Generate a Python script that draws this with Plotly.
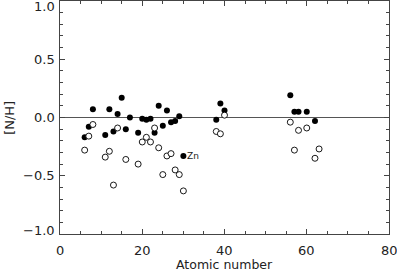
import plotly.graph_objects as go

# Data
filled_z = [6, 7, 8, 11, 12, 13, 14, 15, 16, 17, 19, 20, 21, 22, 23, 24, 25, 26, 27, 28, 29, 30,
            38, 39, 40, 56, 57, 58, 60, 62]
filled_nh = [-0.17, -0.08, 0.07, -0.15, 0.07, -0.12, 0.03, 0.17, -0.10, 0.00, -0.13, -0.01, -0.02,
             -0.01, -0.13, 0.10, -0.07, 0.06, -0.04, -0.03, 0.01, -0.33,
             -0.02, 0.12, 0.06, 0.19, 0.05, 0.05, 0.05, -0.03]

open_z = [6, 7, 8, 11, 12, 13, 14, 16, 19, 20, 21, 22, 23, 24, 25, 26, 27, 28, 29, 30,
          38, 39, 40, 56, 57, 58, 60, 62, 63]
open_nh = [-0.28, -0.16, -0.06, -0.34, -0.29, -0.58, -0.09, -0.36, -0.40, -0.21, -0.17, -0.21,
           -0.09, -0.26, -0.49, -0.33, -0.31, -0.45, -0.49, -0.63,
           -0.12, -0.14, 0.02, -0.04, -0.28, -0.11, -0.09, -0.35, -0.27]

label_z = 30
label_nh = -0.33
label_text = "Zn"

x_ticks = [0, 20, 40, 60, 80]
y_ticks = [-1.0, -0.5, 0.0, 0.5, 1.0]
x_title = "Atomic number"
y_title = "[N/H]"

FONT = "DejaVu Sans"
INK = "#222222"
AX = "#444444"

fig = go.Figure()
fig.add_trace(go.Scatter(
    x=filled_z, y=filled_nh, mode="markers",
    marker=dict(size=6, color="black", line=dict(width=0)),
    showlegend=False, cliponaxis=False))
fig.add_trace(go.Scatter(
    x=open_z, y=open_nh, mode="markers",
    marker=dict(size=6, color="white", line=dict(width=0.9, color="black")),
    showlegend=False, cliponaxis=False))

annotations = [
    dict(x=label_z, y=label_nh, xref="x", yref="y", text=label_text, showarrow=False,
         xanchor="left", yanchor="middle", xshift=3, borderpad=0,
         font=dict(family=FONT, size=9, color=INK)),
    dict(x=0.5, y=0, xref="paper", yref="paper", text=x_title, showarrow=False,
         xanchor="center", yanchor="middle", yshift=-30, borderpad=0,
         font=dict(family=FONT, size=12.5, color=INK)),
    dict(x=-0.154, y=0.5, xref="paper", yref="paper", text=y_title, showarrow=False,
         textangle=-90, xanchor="center", yanchor="middle", borderpad=0,
         font=dict(family=FONT, size=13, color=INK)),
]
ymax, ymin = max(y_ticks), min(y_ticks)
for v in y_ticks:
    shift = -5 if v == ymax else (4 if v == ymin else 0)
    txt = f"{v:.1f}".replace("-", "\u2212")
    annotations.append(dict(x=0, y=v, xref="paper", yref="y", text=txt, showarrow=False,
                            xanchor="right", yanchor="middle", xshift=-4, yshift=shift,
                            borderpad=0, font=dict(family=FONT, size=13, color=INK)))
for v in x_ticks:
    annotations.append(dict(x=v, y=0, xref="x", yref="paper", text=str(v), showarrow=False,
                            xanchor="center", yanchor="middle", yshift=-16, borderpad=0,
                            font=dict(family=FONT, size=13, color=INK)))

fig.update_layout(
    width=397, height=271,
    margin=dict(l=60, r=8, t=1, b=37),
    paper_bgcolor="white", plot_bgcolor="white",
    annotations=annotations,
    xaxis=dict(range=[0, 80], tickvals=x_ticks, showticklabels=False,
               showgrid=False, zeroline=False,
               showline=True, linecolor=AX, linewidth=1, mirror="ticks",
               ticks="inside", ticklen=5, tickcolor=AX, tickwidth=1,
               minor=dict(dtick=5, ticks="inside", ticklen=3, tickcolor=AX, showgrid=False)),
    yaxis=dict(range=[-1.0, 1.0], tickvals=y_ticks, showticklabels=False,
               showgrid=False, zeroline=True, zerolinecolor="#555555", zerolinewidth=1,
               showline=True, linecolor=AX, linewidth=1, mirror="ticks",
               ticks="inside", ticklen=5, tickcolor=AX, tickwidth=1,
               minor=dict(dtick=0.1, ticks="inside", ticklen=3, tickcolor=AX, showgrid=False)),
)

fig.write_html("out.html", config={"displayModeBar": False},
               post_script="document.body.style.margin='0';document.body.style.padding='0';")
